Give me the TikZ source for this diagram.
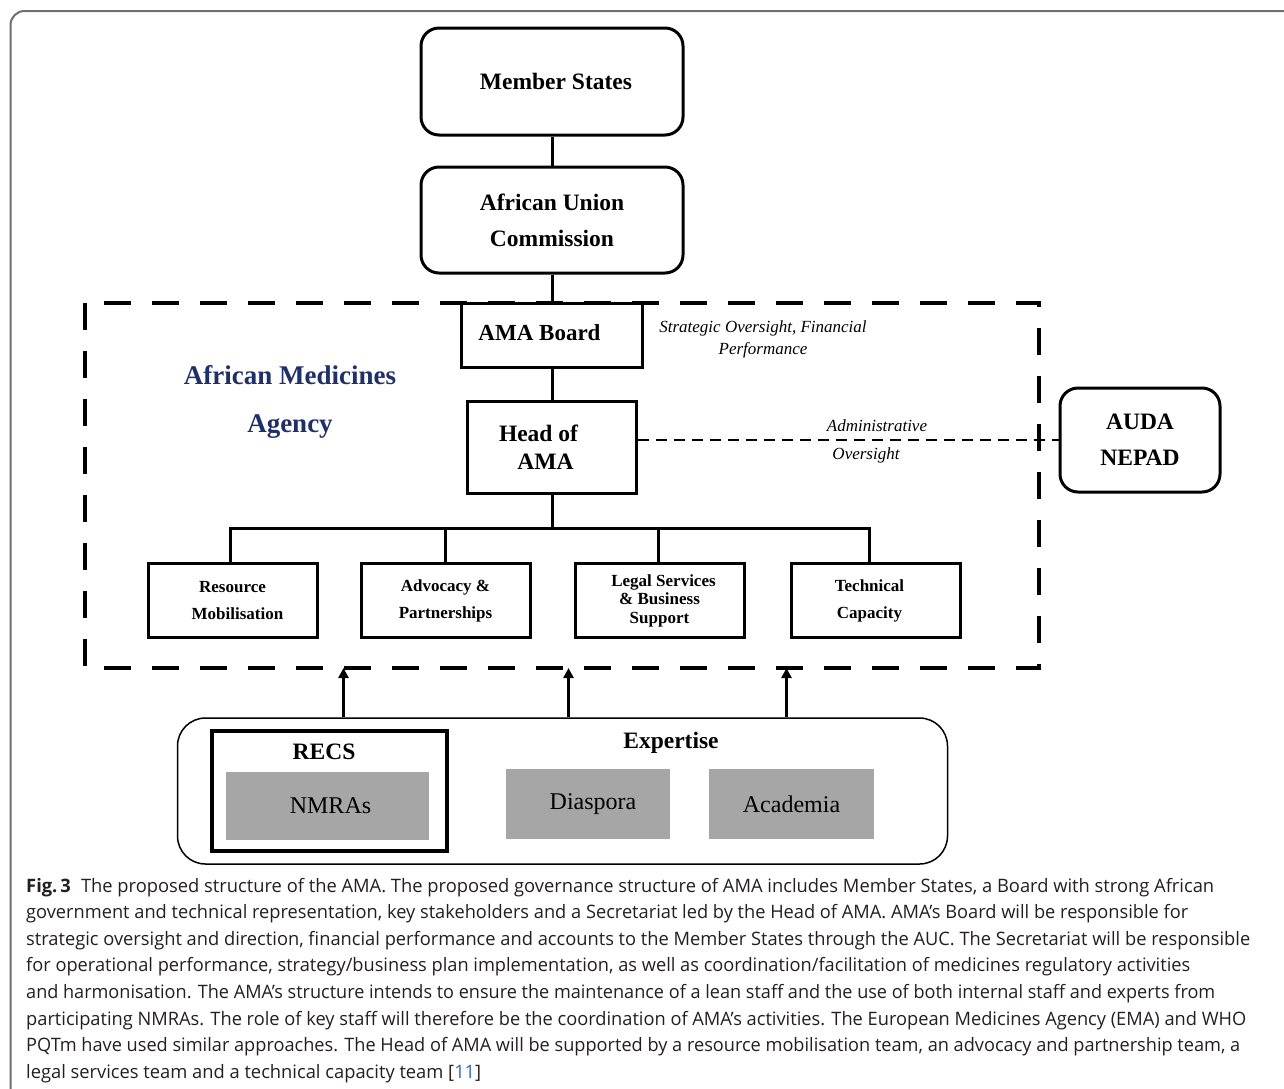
\documentclass[tikz,border=0pt]{standalone}
\usepackage{fontspec}
\usepackage{graphicx}
\setmainfont{Liberation Serif}
\newfontfamily\capfont{Open Sans}
\usetikzlibrary{arrows.meta,shadows}
\definecolor{navy}{RGB}{31,48,105}
\definecolor{boxgray}{RGB}{166,166,166}
\definecolor{captext}{RGB}{35,31,32}
\definecolor{capblue}{RGB}{52,104,184}
\definecolor{framegray}{RGB}{110,110,110}
\newcommand\capline[2]{\resizebox{#1pt}{\height}{#2}}
\tikzset{
  rbox/.style={draw, line width=3, rounded corners=18, inner sep=0, align=center,
    font=\bfseries\fontsize{23.5}{36}\selectfont},
  sbox/.style={draw, line width=3, fill=white, inner sep=0, align=center},
  unitbox/.style={sbox, minimum width=169, minimum height=74,
    font=\bfseries\fontsize{17}{27}\selectfont},
  graybox/.style={fill=boxgray, draw=white, line width=5, inner sep=0,
    drop shadow={opacity=0.25, shadow xshift=1.5pt, shadow yshift=-2.5pt},
    font=\fontsize{24}{28}\selectfont},
  link/.style={line width=3},
  bigdash/.style={line width=3.5, dash pattern=on 27pt off 21pt},
  admindash/.style={line width=2, dash pattern=on 11pt off 7pt},
  uparrow/.style={line width=3, -{Triangle[length=10pt,width=10pt]}},
  capnode/.style={anchor=base west, inner sep=0, text=captext,
    font=\capfont\fontsize{18.5}{22}\selectfont},
  note/.style={inner sep=0, align=center, font=\itshape\fontsize{17}{22}\selectfont}
}
\begin{document}
\begin{tikzpicture}[x=1pt,y=-1pt]
\useasboundingbox (0,0) rectangle (1284,1088);
% outer figure frame
\draw[framegray, line width=2, rounded corners=14] (10.5,1100) -- (10.5,11) -- (1300,11);

% AMA dashed frame
\draw[bigdash] (85,303) rectangle (1039,668);

% top boxes
\node[rbox, minimum width=262, minimum height=107] (ms) at (552,81.5) {\hspace*{8pt}Member States};
\node[rbox, minimum width=262, minimum height=106] (auc) at (552,220) {African Union\\Commission};
\node[sbox, minimum width=181, minimum height=64, font=\bfseries\fontsize{23}{28}\selectfont] (board) at (551.5,335) {\raisebox{4pt}{AMA Board}\hspace*{24pt}};
\node[sbox, minimum width=169, minimum height=92, font=\bfseries\fontsize{23.5}{28}\selectfont] (head) at (551.5,447) {Head of\hspace*{26pt}\\AMA\hspace*{12pt}};
\node[rbox, minimum width=160, minimum height=104] (auda) at (1140,440) {AUDA\\NEPAD};

\node[inner sep=0, align=center, text=navy, font=\bfseries\fontsize{27}{48}\selectfont] (agency) at (290,402) {African Medicines\\Agency};
\node[note] (strat) at (763,339) {Strategic Oversight, Financial\\Performance};
\node[note, font=\itshape\fontsize{17}{28}\selectfont] (admin) at (866,441) {\hspace*{22pt}Administrative\\Oversight};

% units
\node[unitbox] (rm) at (232.5,600.5) {Resource\\\hspace*{10pt}Mobilisation};
\node[unitbox] (ad) at (445.5,600.5) {Advocacy \&\\Partnerships};
\node[unitbox, font=\bfseries\fontsize{17}{18.5}\selectfont] (ls) at (659.5,600.5) {\hspace*{8pt}Legal Services\\\& Business\\Support};
\node[unitbox] (tc) at (875.5,600.5) {\hspace*{-12pt}Technical\\\hspace*{-12pt}Capacity};

% connectors
\draw[link] (ms.south) -- (auc.north);
\draw[link] (auc.north |- auc.south) -- (board.north -| auc.south);
\draw[link] (board.south -| auc.south) -- (head.north -| auc.south);
\coordinate (bus) at (552,528);
\draw[link] (head.south -| bus) -- (bus);
\draw[link] ([xshift=-2.5pt]rm.north) |- (bus) -| ([xshift=-6.5pt]tc.north);
\draw[link] (ad.north) -- (ad.north |- bus);
\draw[link] ([xshift=-1.5pt]ls.north) -- ([xshift=-1.5pt]ls.north |- bus);
\draw[admindash] (head.east |- auda.west) -- (auda.west);

% bottom group
\node[draw, line width=1.5, rounded corners=28, minimum width=770, minimum height=146, inner sep=0] (bot) at (562.5,791) {};
\node[draw, line width=4, minimum width=235, minimum height=120, inner sep=0] (recs) at (329.5,791) {};
\node[inner sep=0, font=\bfseries\fontsize{23.5}{28}\selectfont] (recslab) at (324,752) {RECS};
\node[graybox, minimum width=208, minimum height=73] (nmra) at (327.5,806) {\hspace*{6pt}NMRAs};
\node[inner sep=0, font=\bfseries\fontsize{23.5}{28}\selectfont] (exp) at (671,743) {Expertise};
\node[graybox, minimum width=169, minimum height=75] (dia) at (588,804) {\hspace*{10pt}\raisebox{2pt}{Diaspora}};
\node[graybox, minimum width=170, minimum height=75] (aca) at (791.5,804) {Academia};

\coordinate (up1) at (343.5,668);
\coordinate (up2) at (568.5,668);
\coordinate (up3) at (786.5,668);
\draw[uparrow] (bot.north -| up1) -- (up1);
\draw[uparrow] (bot.north -| up2) -- (up2);
\draw[uparrow] (bot.north -| up3) -- (up3);

% caption
\node[capnode] (c1) at (26,892) {\capline{1188}{{\bfseries Fig.\,3}\hspace{0.55em}The proposed structure of the AMA. The proposed governance structure of AMA includes Member States, a Board with strong African}};
\node[capnode] (c2) at (26,918.6) {\capline{1162}{government and technical representation, key stakeholders and a Secretariat led by the Head of AMA. AMA’s Board will be responsible for}};
\node[capnode] (c3) at (26,945.2) {\capline{1224}{strategic oversight and direction, financial performance and accounts to the Member States through the AUC. The Secretariat will be responsible}};
\node[capnode] (c4) at (26,971.8) {\capline{1164}{for operational performance, strategy/business plan implementation, as well as coordination/facilitation of medicines regulatory activities}};
\node[capnode] (c5) at (26,998.4) {\capline{1189}{and harmonisation. The AMA’s structure intends to ensure the maintenance of a lean staff and the use of both internal staff and experts from}};
\node[capnode] (c6) at (26,1025) {\capline{1220}{participating NMRAs. The role of key staff will therefore be the coordination of AMA’s activities. The European Medicines Agency (EMA) and WHO}};
\node[capnode] (c7) at (26,1051.6) {\capline{1214}{PQTm have used similar approaches. The Head of AMA will be supported by a resource mobilisation team, an advocacy and partnership team, a}};
\node[capnode] (c8) at (26,1078.2) {\capline{455}{legal services team and a technical capacity team [{\color{capblue}11}]}};
\end{tikzpicture}
\end{document}
